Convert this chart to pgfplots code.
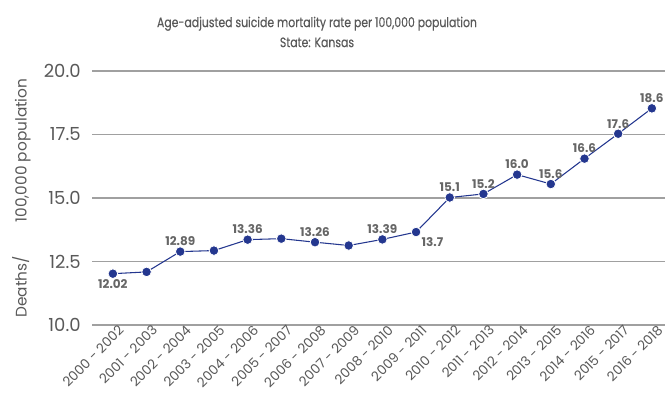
\documentclass[border=0pt]{standalone}
\usepackage{fontspec}
\setmainfont{Poppins}
\newfontfamily\titlefont{Poppins}[FakeStretch=0.8,FakeBold=0.4]
\usepackage{pgfplots}
\usepackage{pgfplotstable}
\pgfplotsset{compat=1.18}
\definecolor{navy}{HTML}{24378F}
\definecolor{txt}{HTML}{595959}
\definecolor{lbl}{HTML}{666666}
\definecolor{grd}{HTML}{A0A0A0}
\pgfplotstableread{
x y
0 12.02
1 12.09
2 12.89
3 12.93
4 13.36
5 13.40
6 13.26
7 13.13
8 13.37
9 13.66
10 15.02
11 15.16
12 15.92
13 15.55
14 16.55
15 17.53
16 18.53
}\datatab
\pgfplotstableread{
x y lab
2 12.89 12.89
4 13.36 13.36
6 13.26 13.26
8 13.37 13.39
10 15.02 15.1
11 15.16 15.2
12 15.92 16.0
13 15.55 15.6
14 16.55 16.6
15 17.53 17.6
16 18.53 18.6
}\abovetab
\pgfplotstableread{
x y lab
0 12.02 12.02
}\belowtab
\pgfplotstableread{
x y lab
9 13.66 13.7
}\righttab
\begin{document}
\begin{tikzpicture}[x=1pt,y=1pt]
\useasboundingbox (0,0) rectangle (498.75,297.75);
\node[text=txt,font=\titlefont\fontsize{10.2}{15}\selectfont,align=center] at (237.75,273.75) {Age-adjusted suicide mortality rate per 100,000 population\\State: Kansas};
\begin{axis}[
  at={(69pt,244.5pt)}, anchor=north west,
  scale only axis, width=429.75pt, height=190.5pt,
  xmin=-0.62, xmax=16.39, ymin=10, ymax=20,
  ytick={10,12.5,15,17.5,20},
  /pgf/number format/fixed,
  /pgf/number format/fixed zerofill,
  /pgf/number format/precision=1,
  /pgf/number format/assume math mode=true,
  yticklabel style={text=txt,font=\fontsize{13.5}{15}\selectfont,xshift=-5pt},
  xtick={0,...,16},
  xticklabels={2000 - 2002,2001 - 2003,2002 - 2004,2003 - 2005,2004 - 2006,2005 - 2007,2006 - 2008,2007 - 2009,2008 - 2010,2009 - 2011,2010 - 2012,2011 - 2013,2012 - 2014,2013 - 2015,2014 - 2016,2015 - 2017,2016 - 2018},
  xticklabel style={rotate=45,anchor=north east,text=txt,font=\fontsize{10}{11}\selectfont,inner sep=1pt,xshift=4pt,yshift=-1pt},
  major tick length=0pt,
  axis line style={draw=none},
  ymajorgrids, grid style={grd,line width=0.9pt},
  ylabel={Deaths/\hspace{2.2em}100,000 population},
  ylabel style={text=txt,font=\fontsize{11.5}{13}\selectfont},
  ylabel shift=3pt,
  clip=false,
  lab/.style={draw=none,mark=none,nodes near coords, point meta=explicit symbolic,
    every node near coord/.append style={text=lbl,font=\bfseries\fontsize{9}{11}\selectfont,inner sep=4pt,#1}},
]
\addplot[navy,line width=0.8pt,mark=*,mark size=3.6pt,mark options={draw=white,line width=0.6pt,fill=navy}] table[x=x,y=y]{\datatab};
\addplot[lab={anchor=south}] table[x=x,y=y,meta=lab]{\abovetab};
\addplot[lab={anchor=north}] table[x=x,y=y,meta=lab]{\belowtab};
\addplot[lab={anchor=north west}] table[x=x,y=y,meta=lab]{\righttab};
\end{axis}
\end{tikzpicture}
\end{document}
